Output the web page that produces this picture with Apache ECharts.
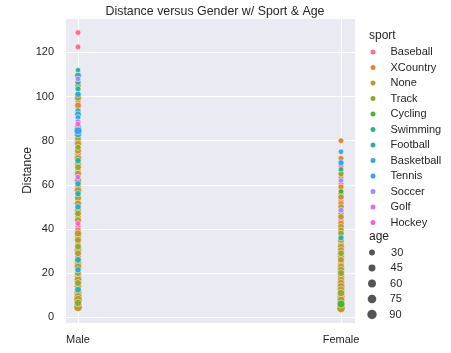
<!DOCTYPE html>
<html lang="en">
<head>
    <meta charset="UTF-8">
    <title>Distance versus Gender w/ Sport & Age</title>
    <script src="https://cdn.jsdelivr.net/npm/echarts@6/dist/echarts.min.js"></script>
    <style>
        html, body { margin: 0; padding: 0; background: #fff; }
        #chart { width: 451px; height: 353px; }
    </style>
</head>
<body>
    <div id="chart"></div>

    <script>
        // categories
        const genders = ['Male', 'Female'];
        const sports = ['Baseball', 'XCountry', 'None', 'Track', 'Cycling', 'Swimming',
                        'Football', 'Basketball', 'Tennis', 'Soccer', 'Golf', 'Hockey'];
        const ageLevels = [30, 45, 60, 75, 90];

        // male points (sport is an index into sports)
        const maleDistance = [129, 122.5, 112, 109.5, 108, 106.5, 105, 103.5, 101, 99.5, 98, 96, 95, 93.5, 92, 90.5, 88.5, 87.5, 86, 84.5,
                              83, 81, 80, 78.5, 77, 75.5, 74, 72, 71, 69.5, 68, 66.5, 65, 63.5, 62, 60.5, 59, 57.5, 56, 54,
                              53, 51.5, 50, 48.5, 47, 45.5, 44, 42.5, 41, 39.5, 38, 36.5, 35, 33, 32, 30.5, 29, 27.5, 26, 24.5,
                              23, 21.5, 20, 18.5, 17, 15.5, 14, 12.5, 11, 9.5, 8, 6.5, 5.5, 4.5];
        const maleSport = [0, 0, 6, 6, 9, 5, 1, 6, 7, 2, 0, 1, 0, 6, 7, 8, 9, 11, 7, 8,
                           7, 2, 1, 2, 3, 2, 1, 2, 6, 2, 3, 0, 2, 10, 2, 7, 1, 2, 6, 2,
                           1, 2, 7, 2, 3, 1, 2, 11, 0, 0, 2, 1, 2, 1, 3, 2, 2, 1, 6, 2,
                           2, 7, 3, 2, 2, 3, 2, 6, 2, 2, 2, 3, 2, 2];
        const maleAge = [40, 40, 35, 55, 40, 45, 50, 45, 50, 60, 45, 55, 50, 45, 55, 40, 45, 40, 60, 80,
                         70, 55, 60, 65, 50, 60, 55, 70, 50, 60, 55, 45, 60, 40, 65, 50, 55, 70, 50, 60,
                         45, 65, 50, 60, 55, 50, 60, 40, 45, 50, 65, 55, 60, 50, 55, 70, 60, 50, 55, 65,
                         70, 50, 55, 65, 75, 60, 70, 55, 80, 75, 85, 70, 80, 90];

        // female points
        const femaleDistance = [80, 75, 72, 70, 68.5, 67, 65, 63.5, 62, 60.5, 59, 57, 56, 54.5, 53, 51.5, 50, 48.5, 47, 45.5,
                                44, 42.5, 41, 39.5, 38, 36, 35, 33.5, 32, 30.5, 29, 27.5, 26, 24.5, 23, 21.5, 20, 18.5, 17, 15.5,
                                14, 12.5, 11, 9.5, 8, 6, 5, 4];
        const femaleSport = [1, 8, 1, 8, 0, 5, 3, 1, 9, 0, 1, 4, 1, 2, 0, 1, 2, 9, 1, 2,
                             0, 1, 2, 2, 3, 6, 2, 1, 2, 2, 3, 2, 2, 1, 2, 2, 3, 2, 2, 2,
                             2, 2, 3, 2, 2, 4, 2, 2];
        const femaleAge = [40, 35, 40, 45, 40, 35, 45, 40, 35, 40, 45, 40, 45, 50, 40, 45, 50, 40, 45, 50,
                           45, 50, 55, 50, 50, 45, 55, 50, 60, 55, 55, 60, 55, 50, 60, 65, 60, 65, 60, 70,
                           75, 70, 70, 80, 75, 80, 85, 90];

        const sportColors = ['#f77189', '#de8834', '#b89a32', '#97a431', '#50b131', '#34af86',
                             '#36ada4', '#38a9c5', '#3ba3ec', '#a48cf4', '#de6bf0', '#f566c4'];
        const textColor = '#262626';
        const font = '"Liberation Sans", Arial, sans-serif';

        // seaborn-like size mapping: area 18..72 pt^2 over the age range
        function ageSize(age) {
            const t = Math.max(0, Math.min(1, (age - 22) / (92 - 22)));
            return Math.sqrt(18 + t * 54);
        }

        const chart = echarts.init(document.getElementById('chart'));

        const sportSeries = sports.map((name, s) => {
            const data = [];
            maleDistance.forEach((d, i) => { if (maleSport[i] === s) data.push([0, d, maleAge[i]]); });
            femaleDistance.forEach((d, i) => { if (femaleSport[i] === s) data.push([1, d, femaleAge[i]]); });
            return {
                name: name,
                type: 'scatter',
                xAxisIndex: 1,
                yAxisIndex: 1,
                data: data,
                symbolSize: v => ageSize(v[2]),
                itemStyle: { color: sportColors[s], opacity: 1, borderColor: '#fff', borderWidth: 0.5 },
                emphasis: { disabled: true }
            };
        });

        const ageSeries = ageLevels.map(a => ({
            name: String(a),
            type: 'scatter',
            xAxisIndex: 1,
            yAxisIndex: 1,
            data: [],
            itemStyle: { color: '#2a2a2a' }
        }));

        const ageLegends = ageLevels.map((a, i) => {
            const sz = ageSize(a) + 1;
            return {
                data: [String(a)],
                orient: 'vertical',
                left: 372 - sz / 2,
                top: 252.5 + i * 15.5 - 6,
                icon: 'circle',
                itemWidth: sz,
                itemHeight: sz,
                selectedMode: false,
                padding: 0,
                textStyle: { color: textColor, fontSize: 11, fontFamily: font, lineHeight: 12, padding: [0, 0, 0, 17 - sz] }
            };
        });

        chart.setOption({
            animation: false,
            title: {
                text: 'Distance versus Gender w/ Sport & Age',
                left: 210,
                textAlign: 'center',
                top: 1,
                textStyle: { color: textColor, fontSize: 12.4, fontWeight: 'normal', fontFamily: font }
            },
            grid: [
                { left: 66, right: 96, top: 18, bottom: 30, show: true, backgroundColor: '#eaeaf2', borderWidth: 0 },
                { left: 78, right: 110, top: 18, bottom: 30 }
            ],
            xAxis: [
                { gridIndex: 0, type: 'value', min: 0, max: 1, show: false },
                {
                    gridIndex: 1, type: 'value', min: 0, max: 1, interval: 1,
                    axisLine: { show: false }, axisTick: { show: false },
                    axisLabel: { formatter: v => genders[v], color: textColor, fontSize: 11, fontFamily: font, margin: 11 },
                    splitLine: { show: true, lineStyle: { color: '#fff', width: 1 } }
                }
            ],
            yAxis: [
                {
                    gridIndex: 0, type: 'value', min: -2.6, max: 135.6, splitNumber: 7,
                    name: 'Distance', nameLocation: 'middle', nameGap: 32, nameMoveOverlap: false,
                    nameTextStyle: { color: textColor, fontSize: 12, fontFamily: font },
                    axisLine: { show: false }, axisTick: { show: false },
                    axisLabel: { color: textColor, fontSize: 11, fontFamily: font, margin: 12, showMinLabel: false, showMaxLabel: false },
                    splitLine: { show: true, lineStyle: { color: '#fff', width: 1 } }
                },
                { gridIndex: 1, type: 'value', min: -2.6, max: 135.6, show: false }
            ],
            legend: [
                {
                    data: sports,
                    orient: 'vertical',
                    left: 368.5,
                    top: 46,
                    icon: 'circle',
                    itemWidth: 7,
                    itemHeight: 7,
                    itemGap: 3.5,
                    selectedMode: false,
                    padding: 0,
                    textStyle: { color: textColor, fontSize: 11, fontFamily: font, lineHeight: 12, padding: [0, 0, 0, 9] }
                }
            ].concat(ageLegends),
            graphic: [
                { type: 'text', left: 369, top: 30, style: { text: 'sport', fill: textColor, fontSize: 12, fontFamily: font } },
                { type: 'text', left: 369, top: 231, style: { text: 'age', fill: textColor, fontSize: 12, fontFamily: font } }
            ],
            series: sportSeries.concat(ageSeries)
        });
    </script>
</body>
</html>
